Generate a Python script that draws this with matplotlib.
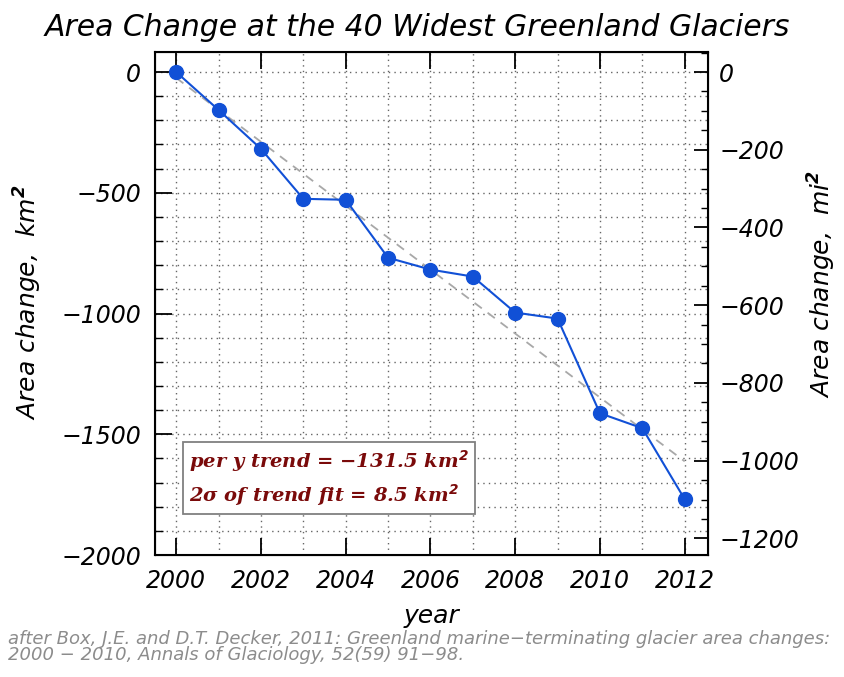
import numpy as np
import matplotlib
matplotlib.use('Agg')
import matplotlib.pyplot as plt
from matplotlib.ticker import MultipleLocator

# data (km^2, cumulative change since 2000)
years = [2000, 2001, 2002, 2003, 2004, 2005, 2006, 2007, 2008, 2009, 2010, 2011, 2012]
area_km2 = [0, -157, -318, -525, -529, -769, -818, -847, -996, -1021, -1413, -1475, -1769]
trend_txt = ['per y trend = \u2212131.5 km$^\\mathbf{2}$', '2\u03c3 of trend fit = 8.5 km$^\\mathbf{2}$']
km_to_mi = 0.6214  # conversion as used by the source figure

plt.rcParams['font.family'] = 'DejaVu Sans'
plt.rcParams['font.style'] = 'oblique'
plt.rcParams['mathtext.fontset'] = 'dejavusans'

fig = plt.figure(figsize=(8.44, 6.77), dpi=100)
ax = fig.add_axes([155/844, 1-555/677, (708-155)/844, (555-52)/677])

# trend line
p = np.polyfit(years, area_km2, 1)
ax.plot(years, np.polyval(p, years), ls=(0, (5, 4)), color='#a8a8a8', lw=1.3, zorder=2)
ax.plot(years, area_km2, '-o', color='#1150d6', lw=1.5, ms=10, zorder=3)

ax.set_xlim(1999.5, 2012.55)
ax.set_ylim(-2000, 83)
ax.xaxis.set_major_locator(MultipleLocator(2))
ax.xaxis.set_minor_locator(MultipleLocator(1))
ax.yaxis.set_major_locator(MultipleLocator(500))
ax.yaxis.set_minor_locator(MultipleLocator(100))
ax.grid(which='both', ls=(0, (1, 3)), color='#666666', lw=1)
ax.tick_params(which='major', direction='in', length=12, width=1.3, top=True, labelsize=17, pad=10)
ax.tick_params(axis='x', which='minor', length=0, top=True)
ax.tick_params(axis='y', which='minor', direction='in', length=6, width=1)
for s in ax.spines.values():
    s.set_linewidth(1.5)

ax2 = ax.twinx()
lo, hi = ax.get_ylim()
ax2.set_ylim(lo*km_to_mi, hi*km_to_mi)
ax2.yaxis.set_major_locator(MultipleLocator(200))
ax2.yaxis.set_minor_locator(MultipleLocator(50))
ax2.tick_params(which='major', direction='in', length=10, width=1.3, labelsize=17, pad=8)
ax2.tick_params(which='minor', direction='in', length=5, width=1)

ax.set_xlabel('year', fontsize=18, labelpad=8)
fig.text(28/844, 1-302/677, 'Area change,  km$^\\mathbf{2}$', rotation=90, fontsize=18,
         ha='center', va='center')
fig.text(822/844, 1-284/677, 'Area change,  mi$^\\mathbf{2}$', rotation=90, fontsize=18,
         ha='center', va='center')

fig.text(417/844, 1-27/677, 'Area Change at the 40 Widest Greenland Glaciers',
         fontsize=21.5, ha='center', va='center')

ax.text(0.062, 0.153, trend_txt[0] + '\n' + trend_txt[1], transform=ax.transAxes,
        fontsize=14, family='DejaVu Serif', style='italic', weight='bold', color='#7a0a0a',
        linespacing=1.45, va='center', ha='left',
        bbox=dict(boxstyle='square,pad=0.3', fc='white', ec='#808080', lw=1.3), zorder=5)

fig.text(8/844, 1-647/677, 'after Box, J.E. and D.T. Decker, 2011: Greenland marine\u2212terminating glacier area changes:\n'
         '2000 \u2212 2010, Annals of Glaciology, 52(59) 91\u221298.',
         fontsize=13, color='#8c8c8c', ha='left', va='center', linespacing=0.85)

fig.savefig('out.png', dpi=100)
